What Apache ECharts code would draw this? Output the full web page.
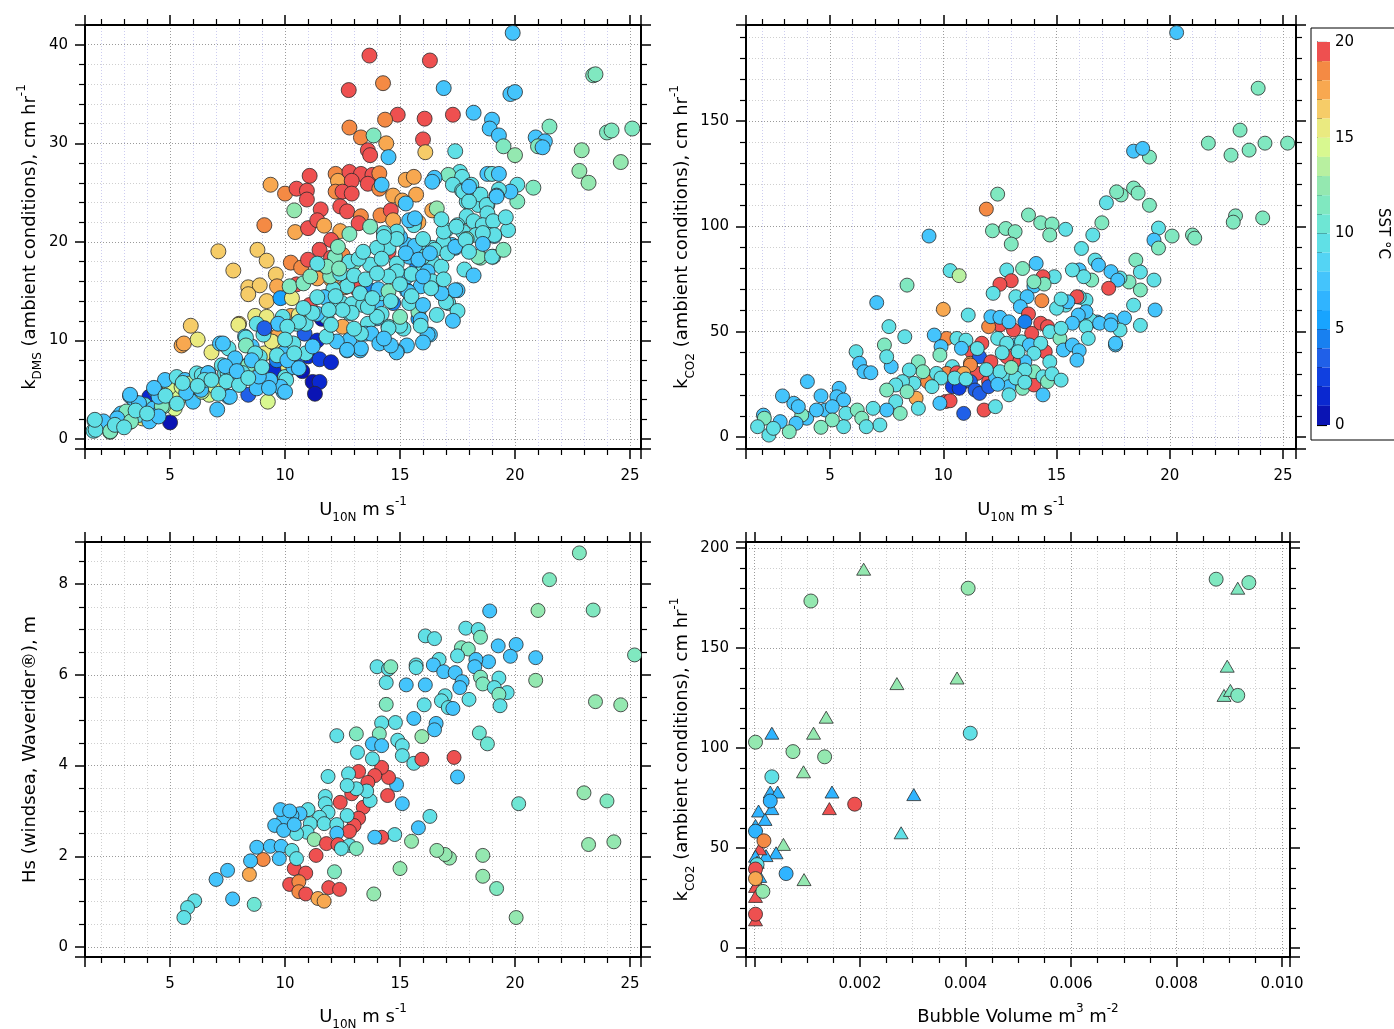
<!DOCTYPE html>
<html><head><meta charset="utf-8">
<script src="https://cdn.jsdelivr.net/npm/echarts@6/dist/echarts.min.js"></script>
<style>html,body{margin:0;padding:0;background:#fff}#c{width:1394px;height:1029px}</style>
</head><body><div id="c"></div>
<script>
// ---------- DATA: [x, y, SST °C] ----------
const tlPoints = [
[19.9,41.2,7],[13.67,38.9,19.5],[16.3,38.4,19.5],[23.4,36.9,11.5],[23.5,37.0,11.5],[12.77,35.4,19.5],[14.26,36.1,18.5],[16.9,35.6,7],[19.8,35.0,7],[20.0,35.2,7],[14.9,32.9,19.5],[14.35,32.4,18.5],[16.07,32.5,19.5],[17.3,32.9,19.5],[18.2,33.1,7],[19.0,32.4,7],[18.9,31.5,7],[19.3,30.8,7],[21.5,31.7,11.5],[24.0,31.1,11],[24.2,31.3,11],[25.1,31.5,11],[12.8,31.6,18.5],[13.3,30.6,18.5],[13.85,30.8,11.5],[13.6,29.3,19.5],[14.4,30.0,17.5],[13.7,28.8,19.5],[16.0,30.4,19.5],[16.1,29.1,16.5],[14.5,28.6,7],[17.4,29.2,9.5],[19.5,29.7,11.5],[20.0,28.8,12],[20.9,30.6,7],[21.3,30.2,7],[21.0,29.7,11],[21.2,29.6,7],[22.9,29.3,12],[22.8,27.2,12],[23.2,26.0,12],[24.6,28.1,12],[20.8,25.5,11],[20.1,24.1,11],[20.1,25.8,9.5],[19.8,25.1,7],[19.3,25.3,9.5],[19.2,24.7,7],[18.8,26.9,7],[19.0,26.9,9],[19.3,26.9,7],[17.6,27.1,9],[17.1,26.8,11.5],[17.7,26.6,9],[16.5,26.5,7],[16.4,26.1,7],[17.3,25.8,9],[18.1,25.8,9],[17.7,25.2,9],[18.45,24.8,9],[17.9,24.1,9],[18.8,23.75,9],[18.4,23.75,9],
[11.07,26.7,19.5],[9.37,25.8,17.5],[10.0,24.9,18.5],[10.5,25.4,19.5],[10.95,25.2,19.5],[10.95,24.3,19.5],[12.2,26.9,18.5],[12.3,26.2,17.5],[12.8,27.1,19.5],[13.3,26.9,19.5],[13.8,26.8,19.5],[14.1,26.96,18.5],[12.9,26.2,19.5],[12.2,25.1,18.5],[12.5,25.1,19.5],[12.9,24.9,19.5],[13.6,25.9,19.5],[14.1,25.4,18.5],[14.2,25.8,7],[14.7,24.7,17.5],[15.1,24.2,17.5],[15.25,26.3,17.5],[15.6,26.6,17.5],[15.7,24.8,17.5],[15.25,23.9,7],[16.4,23.2,17.5],[16.6,23.4,12],[15.8,22.0,17.5],[15.6,21.9,7],[11.55,23.3,19.5],[12.4,23.6,19.5],[12.7,23.1,19.5],[10.4,23.2,12],[9.1,21.7,18.5],[10.44,21.0,17.5],[11.0,21.4,19.5],[11.4,22.2,19.5],[11.7,21.65,17.5],[12.4,21.1,17.5],[13.3,22.6,18.5],[13.2,21.9,19.5],[13.7,21.55,11.5],[14.15,22.7,18.5],[14.6,23.2,19.5],[14.7,22.2,17.5],[12.8,20.8,11.5],[12.0,20.2,19.5],[11.5,19.2,19.5],[12.0,18.4,19.5],[12.5,18.7,18.5],[13.0,17.9,11.5],[14.5,19.0,19.5],[7.1,19.05,16.5],[8.8,19.2,16.5],[9.2,18.1,16.5],[7.75,17.1,16.5],[9.6,16.7,16.5],[10.25,17.9,18.5],[10.7,17.4,18.5],[11.0,18.2,19.5],[11.3,16.5,18.5],[12.0,16.2,17.5],[11.4,16.3,17.5],[13.0,16.1,19.5],[12.6,15.4,18.5],[13.1,15.3,19.5],[10.5,15.7,19.5],[9.65,15.5,17.5],[8.4,15.4,16.5],[8.9,15.6,16.5],[8.4,14.7,16.5],[9.2,14.0,16.5],[9.8,14.3,5.5],[10.3,14.3,15.5],[11.07,13.6,19.5],[11.8,14.4,17.5],[8.7,12.5,15.5],[9.2,12.4,15.5],[10.25,12.5,17.5],[10.6,12.6,15.5],[8.0,11.7,16],[5.9,11.5,16.5],[5.5,9.5,17],[5.6,9.7,17],[6.2,10.1,15.5],[6.8,8.8,15.5],[12.5,11.4,17.5],[9.15,10.7,17.5],[9.7,10.5,17],[9.5,9.8,15.5],[9.1,8.7,15.5],[9.75,7.0,15.5],
[11.6,12.2,0.5],[10.85,10.7,3.5],[11.4,10.0,1.5],[11.0,8.4,1.5],[11.5,8.1,2.5],[12.0,7.8,1.5],[10.5,7.8,3.5],[10.75,6.9,0.5],[9.5,7.0,1.5],[11.2,5.8,0.5],[11.5,5.8,1],[11.3,4.6,0.5],[8.4,4.5,3.5],[13.7,15.1,4.5],[14.7,13.8,4.5],[15.75,17.6,4.5],[15.3,15.1,5.5],[15.8,12.2,5.5],[5.0,1.7,0.5],[4.1,4.3,1.5],[9.25,3.8,14],[7.05,3.0,7],[3.8,2.1,15.5],
[5.0,5.2,14.5],[5.4,4.2,14],[5.2,3.1,14],[6.9,5.3,14.5],[6.7,4.5,14],[5.8,5.8,13],[8.1,7.4,11.5],[4.7,3.3,11.5],
[1.71,1.86,9.5],[1.67,0.84,9],[2.1,1.65,7],[2.39,0.74,11],[2.53,1.25,9],[2.75,2.26,7],[3.04,2.6,11],[3.26,4.37,7],[3.48,3.7,7],[3.26,1.76,11],[3.62,2.44,9.5],[3.9,3.45,9.5],[4.27,3.1,7],[4.42,2.44,5.5],[4.64,3.35,11.5],[4.35,4.97,7],[4.78,6.0,7],[5.29,6.3,9.5],[5.5,5.3,14],[5.65,6.0,7],[5.87,5.65,13],[5.87,4.47,9.5],[6.0,3.8,7],[6.16,6.67,9.5],[6.38,6.5,9.5],[6.38,4.8,13],[6.67,6.67,7],[6.96,5.3,14.5],[7.17,9.7,7],[7.25,7.5,9.5],[7.39,6.67,9.5],[7.54,4.3,7],[7.54,9.2,9.5],[7.83,8.2,7],[7.97,11.6,15.5],[7.97,5.65,9.5],[8.26,10.4,7],[8.4,7.5,11.5],[8.55,9.4,7],[8.77,5.15,7],[8.9,8.36,9.5],[9.06,11.2,5.5],[9.42,9.9,15.5],[9.64,8.0,4.5],[10.0,6.3,9.5],[9.93,4.8,7],
[17.75,25.1,9.5],[18.5,24.8,9.5],[18.0,24.1,9.5],[18.77,23.75,9.5],[19.2,24.6,7],[18.8,22.9,9.5],[17.9,22.6,9.5],[18.2,22.1,9.5],[18.6,21.7,9.5],[19.05,22.1,9.5],[17.5,21.7,9.5],[17.0,21.2,9.5],[17.75,21.0,9.5],[18.3,20.7,9.5],[18.9,20.7,9.5],[19.1,20.6,7],[17.9,20.3,11.5],[17.25,19.7,7],[17.4,19.4,7],[16.7,19.4,9.5],[18.5,18.4,11.5],[19.05,18.5,9.5],[16.9,20.0,9.5],[16.4,19.4,9.5],[16.4,18.0,9.5],[15.8,19.5,9.5],[16.0,18.5,9.5],[15.4,18.5,7],[15.3,19.7,7],[15.0,20.5,7],[15.6,21.7,9.5],[15.4,22.2,7],[15.65,22.4,7],[14.86,21.05,9.5],[14.3,20.9,9.5],[14.5,19.4,9.5],[14.0,19.4,9.5],[13.7,17.7,9.5],[14.2,18.3,9.5],[14.86,17.8,9.5],[14.7,16.75,9.5],[15.3,16.5,7],[15.9,16.8,9.5],[16.2,17.0,7],[16.4,16.0,9.5],[16.8,14.8,9.5],[17.1,13.8,9.5],[17.5,15.1,7],[15.9,15.5,7],[15.36,14.95,7],[15.8,12.9,11.5],[15.9,12.1,7],[16.3,10.6,7],[15.3,9.5,7],[14.86,8.9,7],[14.5,11.4,9.5],[15.15,11.2,9.5],[14.0,12.25,7],[14.0,13.9,7],[14.2,12.7,9.5],[13.6,11.7,9.5],[13.5,10.7,7],[13.26,9.0,7],[12.8,10.05,7],[12.7,9.0,7],[12.25,9.9,7],[11.8,10.4,9.5],[12.8,12.8,9.5],[12.46,13.8,9.5],[12.1,13.4,9.5],[12.9,13.7,9.5],[13.4,13.6,9.5],[13.26,14.8,9.5],[14.2,14.8,9.5],[12.7,15.5,9.5],[12.1,15.2,9.5],[11.7,14.4,7],[11.4,14.4,9.5],[11.96,16.5,11.5],[12.4,16.8,9.5],[12.8,18.0,9.5],[13.2,18.3,9.5],[12.17,18.5,11.5],[11.8,12.4,9.5],[11.4,12.7,7],[10.9,11.7,9.5],[10.5,11.7,9.5],[9.9,12.4,9.5],[9.7,11.7,7],[10.36,9.7,9.5],[9.93,8.7,7],[10.36,7.3,7],[10.9,8.7,9.5],[10.2,15.5,11.5],[10.8,15.8,11.5],[11.1,16.5,11.5],[11.8,17.5,11.5],[12.35,17.3,11.5],[8.77,11.7,9.5],[9.06,10.6,9.5],
[14.85,8.8,7],[16.2,10.6,7],[15.9,11.5,9.5],[15.0,11.5,9.5],[17.4,15.1,7],[17.0,13.9,9.5],[16.8,14.8,7],[16.35,15.3,9.5],[16.8,17.5,9.5],[16.5,19.2,9.5],[17.06,18.85,9.5],[17.4,19.5,7],[17.85,20.2,9.5],[18.4,18.5,11.5],[19.0,18.5,9.5],[19.5,19.2,11.5],[19.7,21.2,9.5],[19.1,20.7,9.5],[18.6,20.9,9.5],[16.9,21.05,9.5],[17.45,21.55,9.5],[15.65,19.6,7],[14.86,20.3,9.5],[14.3,20.5,9.5],[15.25,18.85,7],[15.8,18.2,7],[16.3,18.85,7],[15.5,16.75,9.5],[16.0,16.5,7],[14.86,17.0,9.5],[14.5,16.5,9.5],[14.06,15.2,7],[14.5,15.0,11.5],[15.0,15.7,9.5],[15.4,13.8,9.5],[15.0,12.4,11.5],[14.5,11.25,9.5],[14.0,12.4,9.5],[13.6,13.4,9.5],[12.9,12.8,9.5],[13.75,10.7,7],[14.1,9.7,7],[13.3,9.2,7],[12.7,9.05,7],[13.3,10.7,9.5],[14.6,9.5,7],[12.5,13.1,9.5],[12.2,14.5,9.5],[11.9,13.1,9.5],[11.2,12.8,9.5],[10.6,11.9,9.5],[10.1,11.4,9.5],[10.0,10.1,9.5],[9.1,11.25,3.5],[8.3,10.3,9.5],[8.3,9.5,11.5],[8.7,8.7,9.5],[8.55,8.0,7],[9.65,8.5,9.5],[10.1,8.0,7],[10.4,8.7,9.5],[10.6,7.2,7],[10.05,6.0,9.5],[9.8,5.3,7],[10.0,4.8,7],[9.35,6.0,7],[8.86,6.35,7],[8.15,6.7,9.5],[7.5,6.7,9.5],[7.44,5.85,9.5],[8.0,5.5,9.5],[7.6,4.3,7],[7.4,7.4,7],[7.3,9.7,7],[6.65,6.7,7],[6.35,5.0,7],[5.7,4.7,7],[5.55,5.7,9.5],[6.5,6.0,9.5],[4.5,4.3,7],[4.3,5.2,7],[3.65,3.65,7],[3.26,4.5,7],[2.87,2.6,7],[3.1,2.8,11],[2.7,2.1,7],[3.3,1.8,11],[4.1,1.8,7],[4.5,2.3,7],[2.1,1.8,7],[1.76,0.95,9.5],[2.4,0.8,11],[2.6,1.45,9.5],[1.73,1.96,9.5],
[13.0,16.6,9.5],[13.5,16.2,9.5],[14.0,16.8,9.5],[13.8,14.3,9.5],[14.6,14.0,9.5],[15.5,14.5,9.5],[16.0,13.6,7],[16.6,12.6,9.5],[17.5,13.0,9.5],[16.9,16.2,9.5],[17.8,17.2,9.5],[18.2,16.6,7],[18.0,19.0,9.5],[16.0,20.3,9.5],[13.4,19.0,9.5],[12.3,19.5,11.5],[11.4,17.8,9.5],[10.8,13.3,9.5],[11.2,9.4,7],[12.0,11.6,9.5],[13.0,11.2,9.5],[14.3,10.2,7],[16.0,9.8,7],[17.3,12.0,7],[18.6,19.8,7],[19.6,22.5,9.5],[18.0,25.6,7],[16.8,22.3,9.5],
[3.0,1.2,9.5],[3.5,2.9,9.5],[4.0,2.6,9.5],[4.8,4.4,9.5],[5.3,3.6,9.5],[6.2,5.4,9.5],[6.8,6.0,9.5],[7.1,4.6,9.5],[7.9,6.9,7],[8.4,6.2,9.5],[9.0,7.3,9.5],[9.3,5.2,7]
];

const trPoints = [
[20.3,192,7],[23.9,165.6,11.5],[23.1,145.7,11.5],[23.5,136.2,11.5],[22.7,133.8,11.5],[24.2,139.5,11.5],[25.2,139.5,11.5],[21.7,139.5,11.5],[19.1,132.9,11.5],[18.4,135.7,7],[18.8,137,7],[22.9,105,11.5],[22.8,102,11.5],[24.1,104,11.5],[21.0,95.9,11.5],[21.1,94.4,11.5],[20.1,95.4,11.5],[19.5,99.2,9.5],[19.3,93.5,7],[19.5,89.7,11.5],[19.1,110,11.5],[17.85,114.9,11.5],[18.4,118.2,11.5],[18.6,115.8,11.5],[18.5,84,11.5],[18.7,78.3,9.5],[18.2,73.6,11.5],[17.8,75.5,9.5],[19.3,74.5,9.5],[18.7,69.8,11.5],[18.4,62.6,9.5],[19.35,60.3,7],[18.0,56.5,7],[18.7,53,9.5],[17.6,43.7,7],[17.8,50.8,9.5],[17.4,55.5,7],[16.8,54.6,7],[16.5,55.5,9.5],[16.3,65,9.5],[15.4,62.6,9.5],[16.0,79.3,7],[16.0,66.4,9.5],
[12.4,115.3,11.5],[11.9,108.2,18.5],[9.37,95.4,7],[12.17,97.9,11.5],[12.76,99.0,11.5],[13.17,97.5,11.5],[13.0,91.6,11.5],[13.76,105.4,11.5],[14.3,101.7,11.5],[14.8,101.1,11.5],[14.7,95.9,11.5],[15.4,98.6,9.5],[16.1,89.5,9.5],[16.6,95.9,9.5],[17.0,101.7,11.5],[17.2,111.2,9.5],[17.65,116.4,11.5],[16.7,84,9.5],[16.85,81.6,7],[17.4,78.5,7],[17.7,74.5,7],[16.55,74.5,11.5],[16.2,76.1,9.5],[15.7,79.3,9.5],[17.3,70.6,19.5],[15.9,66.6,19.5],[14.9,76.1,9.5],[14.4,76.1,19.5],[14.1,82.4,7],[13.5,80.0,11.5],[12.8,79.3,9.5],[13.0,74.2,19.5],[12.5,72.5,19.5],[14.0,71.7,7],[14.45,72.6,11.5],[14.0,73.7,11.5],[12.2,68.2,9.5],[10.3,79.0,9.5],[10.7,76.6,13.5],[8.4,72.1,11.5],[7.06,63.8,7],[10.0,60.6,17.5],[11.1,57.9,9.5],[13.2,66.6,9.5],[13.7,66.6,7],[13.4,61.9,7],[14.35,64.7,18.5],[15.0,61.1,9.5],[15.5,64.2,7],[15.2,65.5,9.5],[16.3,59.5,7],[15.96,57.9,7],[15.7,54,7],[16.3,52.4,9.5],[16.4,46.8,9.5],[16.9,54,7],[17.4,53.2,7],[17.6,44.5,7],[13.76,58.4,19.5],[13.6,54.7,4.5],[13.9,49.2,19.5],[14.3,54,19.5],[14.6,52.4,19.5],[14.7,50,9.5],[15.15,46.8,11.5],[15.2,51.6,9.5],[13.1,50.8,19.5],[12.5,53.2,19.5],[12.0,52.4,18.5],[12.1,57.1,7],[12.5,56.8,7],[12.9,54.7,7],[13.2,43.7,7],[12.4,46.8,9.5],[12.8,44.5,9.5],[13.45,45.2,9.5],[13.8,43.7,7],[14.5,40.5,19.5],[15.3,41.3,7],[15.7,43.7,7],[16.0,41,7],[15.9,36.5,7],[14.3,44.5,9.5],[14.0,39.7,9.5],[14.7,35.7,9.5],[13.6,35.7,7],[13.1,35.7,19.5],[12.8,38.1,19.5],[11.7,44.5,19.5],[11.25,40.5,19.5],[10.15,46.8,18.5],[9.6,48.4,7],[9.9,42.9,7],[10.6,46.8,9.5],[11.0,46,9.5],[10.8,42.1,7],[9.85,38.9,11.5],[10.4,33.4,9.5],[10.15,30.2,18.5],[10.6,30.5,19.5],[11.2,35,17.5],[11.6,38.1,3.5],[12.1,35.7,19.5],[11.5,30.2,19.5],[12.0,26.3,19.5],[11.2,34.2,18.5],[10.9,30.2,17.5],[10.8,25.5,19.5],[10.4,23.9,2],[11.2,26.3,3],[11.4,22.3,3.5],[11.6,20.7,3],[12.0,23.9,3.5],[10.7,23.1,2.5],[10.1,16.8,19.5],[10.3,17.2,19.5],[10.9,11.2,3],[11.8,12.8,19.5],[12.3,14.4,9.5],[12.3,28.6,7],[12.8,29.4,9.5],[12.9,23.9,7],[12.9,20,9.5],[13.5,23.1,11.5],[14.0,24.7,19.5],[14.0,31,11.5],[14.4,28.6,9.5],[14.6,26.3,11.5],[14.4,20,7],[13.6,31.8,9.5],[9.3,26.3,18.5],[8.8,18.4,17.5],[9.7,30.2,9.5],[9.9,28,9.5],[9.5,23.9,9.5],[9.85,16,7],[8.7,25.5,9.5],[8.9,35.7,11.5],[9.1,31,11.5],[8.5,31.8,9.5],[8.2,26.3,9.5],[7.9,24.7,9.5],[7.5,22.3,11.5],[8.4,21.5,11.5],[7.9,16.8,9.5],[7.5,12.8,7],[8.1,11.2,11.5],[8.9,13.6,9.5],[8.3,47.6,9.5],[7.4,43.7,11.5],[7.6,52.4,9.5],[7.7,33.4,7],[7.5,38.1,9.5],[6.15,40.5,9.5],[6.3,35,7],[6.5,31,7],[6.8,30.5,7],[5.4,23.1,7],[5.3,19.1,7],[5.6,17.6,7],[4.6,19.5,7],[4.8,12.8,7],[5.1,14.4,7],[5.7,11.2,9.5],[6.2,12.8,11.5],[6.4,8.9,11.5],[6.9,13.6,9.5],[7.2,5.7,9.5],[6.6,4.9,9.5],[5.6,4.9,9.5],[5.1,8.1,11.5],[4.6,4.6,11.5],[3.97,8.9,7],[4.0,26.3,7],[3.75,10.4,11.5],[3.5,6.5,7],[3.4,16,7],[3.6,14.4,7],[2.9,19.5,7],[3.2,2.5,11.5],[2.8,7.3,7],[2.06,10.4,7],[2.1,8.9,11.5],[1.8,4.9,9.5],[2.3,0.9,9.5],[2.5,4.1,9.5],[4.4,12.8,7],
[10.5,28,9.5],[11.0,27.5,9.5],[12.5,31,9.5],[13.2,28,9.5],[13.6,26,9.5],[12.4,25,7],[11.9,32,9.5],[12.6,40,9.5],[13.3,40.5,9.5],[14.8,30,9.5],[15.2,27,9.5],[13.0,33,11.5],[11.5,42,9.5]
];

const blPoints = [
[22.8,8.69,11.5],[21.5,8.1,11.5],[18.9,7.41,7],[21.0,7.42,12],[23.4,7.43,11.5],[25.2,6.44,11.5],[17.86,7.03,9.5],[18.4,7.0,9.5],[18.5,6.83,11.5],[16.1,6.86,9],[16.5,6.8,9.5],[17.67,6.6,11],[17.97,6.57,11],[17.5,6.42,9.5],[19.27,6.64,7],[20.05,6.67,7],[19.8,6.41,7],[20.9,6.38,7],[18.85,6.29,7],[18.3,6.34,7],[18.25,6.18,7],[16.7,6.34,9.5],[16.45,6.22,7],[16.9,6.07,7],[17.4,6.05,7],[15.7,6.22,9.5],[15.7,6.16,9.5],[14.0,6.18,9.5],[14.5,6.13,9.5],[14.6,6.18,11],[17.7,5.85,7],[17.6,5.72,7],[18.5,5.95,11],[18.6,5.8,11],[19.3,5.93,9.5],[19.1,5.72,9.5],[19.66,5.61,9.5],[19.3,5.57,11],[19.35,5.32,9.5],[20.9,5.88,12],[23.5,5.41,12],[24.6,5.34,12],[18.0,5.46,9.5],[16.96,5.54,9.5],[16.8,5.43,9.5],[17.1,5.28,9.5],[17.3,5.26,7],[16.1,5.78,7],[16.05,5.34,9.5],[15.27,5.78,7],[14.4,5.83,9.5],[14.4,5.35,11.5],[15.6,5.04,7],[16.57,4.93,7],[16.5,4.79,7],[14.8,4.95,9.5],[14.2,4.94,9.5],[15.95,4.64,12],[18.45,4.72,10],[18.8,4.48,10],[14.9,4.56,9.5],[15.1,4.44,9.5],[15.1,4.22,9.5],[15.6,4.05,9.5],[15.95,4.14,19.5],[17.35,4.18,19.5],[17.5,3.75,7],[20.16,3.16,10],[23.0,3.4,12],[24.0,3.22,11.5],[23.2,2.26,12],[24.3,2.32,12],[18.6,2.02,12],[18.6,1.56,12],[19.2,1.29,11],[20.05,0.65,12],[17.15,1.96,12],[16.96,2.04,12],[16.6,2.13,12],[15.5,2.33,12],[15.0,1.73,12],[13.86,1.17,12],[16.3,2.88,9.5],[15.8,2.63,7],[15.1,3.16,7],[14.77,2.48,9.5],[14.2,2.42,19.5],[13.9,2.42,7],[14.85,3.58,7],[14.46,3.34,19.5],[14.5,3.74,19.5],[14.2,3.96,19.5],[13.9,3.78,19.5],[13.6,3.63,19.5],[13.2,3.87,19.5],[13.4,3.08,19.5],[12.9,3.38,19.5],[13.2,2.84,19.5],[13.0,2.68,19.5],[12.8,2.55,19.5],[12.4,3.19,19.5],[13.7,3.23,9.5],[13.55,3.44,9.5],[12.76,3.82,9.5],[13.1,3.49,9.5],[12.7,3.56,9.5],[11.87,3.76,9.5],[12.25,4.66,9.5],[13.1,4.7,11],[14.1,4.7,11.5],[13.8,4.48,7],[14.2,4.44,7],[13.15,4.29,9.5],[13.8,4.15,9.5],[11.75,3.32,9.5],[11.75,3.16,9.5],[11.87,2.97,9.5],[11.5,2.86,9.5],[11.0,3.03,9.5],[10.65,2.94,7],[11.1,2.72,9.5],[10.96,2.53,9.5],[10.5,2.5,9.5],[10.3,2.9,7],[9.94,2.83,7],[9.8,3.03,7],[10.2,3.0,7],[9.55,2.68,7],[9.94,2.57,7],[10.4,2.7,7],[11.7,2.72,9.5],[12.25,2.7,9.5],[12.25,2.51,7],[12.7,2.9,9.5],[11.27,2.37,12],[11.8,2.28,19.5],[12.3,2.26,19.5],[12.8,2.24,9.5],[13.1,2.17,11.5],[12.45,2.17,9.5],[11.35,2.02,19.5],[10.4,1.73,19.5],[10.9,1.63,19.5],[10.2,1.38,19.5],[10.6,1.44,18.5],[10.6,1.22,18.5],[10.9,1.17,19.5],[11.9,1.31,19.5],[12.37,1.27,19.5],[11.43,1.07,17.5],[11.7,1.01,17.5],[12.15,1.66,11.5],[9.05,1.93,18.5],[8.45,1.6,17.5],[8.77,2.2,7],[9.36,2.22,7],[9.83,2.22,7],[10.3,2.13,9.5],[10.5,1.95,9.5],[9.75,1.95,7],[8.5,1.9,7],[7.5,1.69,7],[7.0,1.49,7],[7.72,1.06,7],[8.66,0.94,10],[6.07,1.02,9.5],[5.76,0.87,9.5],[5.6,0.65,9.5]
];

const brCircles = [
[0.00107,173.5,12.5],[0.00405,179.9,12.5],[0.00875,184.4,11.5],[0.00937,182.7,11.5],[0.00916,126.3,11.5],[0.00409,107.4,9.5],[0.00002,102.9,12.5],[0.00073,98.2,12.5],[0.00133,95.6,12.5],[0.00033,85.6,9.5],[0.0003,73.5,6],[0.0019,71.9,19.5],[0.00002,58.4,6],[0.00018,53.6,18.5],[0.00005,41.7,9.5],[0.00002,39.5,19.5],[0.00002,34.7,17.5],[0.0006,37.2,6],[0.00016,28.3,12.5],[0.00002,16.9,19.5]
];
const brTriangles = [
[0.00207,189.4,12.5],[0.00916,179.9,11.5],[0.00896,140.9,11.5],[0.0089,126.3,11.5],[0.00902,128.8,11.5],[0.0027,132.2,12.5],[0.00384,135,12.5],[0.00136,115.4,12.5],[0.00112,107.4,12.5],[0.00033,107.4,6],[0.00093,88.1,12.5],[0.0003,78,6],[0.00044,78,6],[0.00147,78,6],[0.00302,76.7,6],[0.00142,69.7,19.5],[0.00033,69.7,6],[0.000078,68.5,6],[0.0002,64.3,6],[0.00002,61.3,6],[0.00278,57.6,9.5],[0.00055,51.8,12.5],[0.00041,47.6,6],[0.00022,46.2,6],[0.0001,49.6,19.5],[0.00002,45.9,6],[0.00005,42.9,19.5],[0.0001,35.8,6],[0.00006,32.5,17.5],[0.00002,30.8,19.5],[0.00002,25.8,19.5],[0.00094,34.2,12.5],[0.00002,14.1,19.5]
];

// colour scale: one colour per 1 °C band, 0..20
const sstColors = ['#0a14b4','#0a28d0','#1040e0','#2060e8','#1880f0','#18a4ff','#30b4ff','#44c4fc','#54d4f4','#60e0e6',
                   '#6ee6d4','#80e8c0','#94e8b0','#b8f0a0','#d8f890','#eaea80','#f6cc68','#f8a850','#f48a44','#ee5050'];
const sstTicks = [0, 5, 10, 15, 20];

// ---------- CHART ----------
const FONT = 'DejaVu Sans';
const chart = echarts.init(document.getElementById('c'));
const rich = {
  n: {fontSize: 18, fontFamily: FONT, color: '#000', lineHeight: 28},
  sub: {fontSize: 12, fontFamily: FONT, color: '#000', lineHeight: 12, verticalAlign: 'bottom'},
  sup: {fontSize: 12, fontFamily: FONT, color: '#000', lineHeight: 12, verticalAlign: 'top'}
};

function axis(kind, grid, pos, min, max, minorN, o) {
  o = o || {};
  const a = {
    type: 'value', gridIndex: grid, position: pos, min: min, max: max,
    axisLine: {show: true, onZero: false, lineStyle: {color: '#000', width: 2}},
    axisTick: {show: true, inside: false, length: 10, lineStyle: {color: '#000', width: 1.5}},
    minorTick: {show: true, splitNumber: minorN, length: 6, lineStyle: {color: '#000', width: 1.2}},
    axisLabel: {show: !!o.labels, showMinLabel: false, showMaxLabel: false, fontSize: 15, fontFamily: FONT,
                color: '#000', margin: kind === 'x' ? 20 : 17, formatter: o.fmt},
    splitLine: {show: !!o.grid, lineStyle: {color: '#9a9a9a', type: [1, 2], width: 1}},
    minorSplitLine: {show: !!o.grid, lineStyle: {color: o.minorColor || '#cfcfcf', type: [1, 2], width: 1}}
  };
  if (o.name) {
    a.name = o.name; a.nameLocation = 'middle'; a.nameGap = o.gap;
    a.nameTextStyle = {rich: rich};
    if (kind === 'y') a.nameRotate = 90;
  }
  return a;
}

const uName = '{n|U}{sub|10N}{n| m s}{sup|-1}';
const lav = '#cdcdf0';

const xAxes = [
  axis('x', 0, 'bottom', 1.3, 25.48, 5, {labels: true, grid: true, minorColor: lav, name: uName, gap: 47}),
  axis('x', 0, 'top', 1.3, 25.48, 5),
  axis('x', 1, 'bottom', 1.29, 25.57, 5, {labels: true, grid: true, minorColor: lav, name: uName, gap: 47}),
  axis('x', 1, 'top', 1.29, 25.57, 5),
  axis('x', 2, 'bottom', 1.3, 25.48, 5, {labels: true, grid: true, name: uName, gap: 46}),
  axis('x', 2, 'top', 1.3, 25.48, 5),
  axis('x', 3, 'bottom', -0.00016, 0.01015, 4, {labels: true, grid: true, name: '{n|Bubble Volume m}{sup|3}{n| m}{sup|-2}', gap: 46,
        fmt: v => (Math.abs(v) < 1e-9 ? '' : v.toFixed(3))}),
  axis('x', 3, 'top', -0.00016, 0.01015, 4),
  {type: 'value', gridIndex: 4, min: 0, max: 1, show: false}
];
const yAxes = [
  axis('y', 0, 'left', -1.0, 42.0, 5, {labels: true, grid: true, name: '{n|k}{sub|DMS}{n| (ambient conditions), cm hr}{sup|-1}', gap: 41}),
  axis('y', 0, 'right', -1.0, 42.0, 5),
  axis('y', 1, 'left', -5.7, 195.6, 5, {labels: true, grid: true, name: '{n|k}{sub|CO2}{n| (ambient conditions), cm hr}{sup|-1}', gap: 43}),
  axis('y', 1, 'right', -5.7, 195.6, 5),
  axis('y', 2, 'left', -0.22, 8.93, 4, {labels: true, grid: true, name: '{n|Hs (windsea, Waverider®), m}', gap: 41}),
  axis('y', 2, 'right', -0.22, 8.93, 4),
  axis('y', 3, 'left', -4.5, 203, 5, {labels: true, grid: true, name: '{n|k}{sub|CO2}{n| (ambient conditions), cm hr}{sup|-1}', gap: 43}),
  axis('y', 3, 'right', -4.5, 203, 5),
  {
    type: 'value', gridIndex: 4, position: 'right', min: sstTicks[0], max: sstTicks[sstTicks.length - 1], interval: 5,
    axisLine: {show: true, lineStyle: {color: '#000', width: 1}},
    axisTick: {show: true, length: 10, lineStyle: {color: '#000', width: 1.2}},
    minorTick: {show: true, splitNumber: 5, length: 5, lineStyle: {color: '#000', width: 1}},
    axisLabel: {fontSize: 15, fontFamily: FONT, color: '#000', margin: 5},
    splitLine: {show: false},
    name: 'SST °C', nameLocation: 'middle', nameRotate: -90, nameGap: 45,
    nameTextStyle: {fontSize: 15, fontFamily: FONT, color: '#000'}
  }
];

const pieces = sstColors.map((c, i) => (i === sstColors.length - 1
  ? {gte: i, lte: i + 1, color: c} : {gte: i, lt: i + 1, color: c}));

const sym = {borderColor: '#2a2a2a', borderWidth: 0.8, opacity: 1};

chart.setOption({
  animation: false,
  backgroundColor: '#fff',
  grid: [
    {left: 85, top: 25, width: 556, height: 424, outerBoundsMode: 'none'},
    {left: 746, top: 25, width: 550, height: 424, outerBoundsMode: 'none'},
    {left: 85, top: 542, width: 556, height: 415, outerBoundsMode: 'none'},
    {left: 746, top: 542, width: 544, height: 415, outerBoundsMode: 'none'},
    {left: 1317, top: 42, width: 13, height: 383, outerBoundsMode: 'none'}
  ],
  xAxis: xAxes,
  yAxis: yAxes,
  visualMap: [{
    type: 'piecewise', seriesIndex: [0, 1, 2, 3, 4], dimension: 2, pieces: pieces,
    orient: 'vertical', left: 1317, top: 42, itemWidth: 13, itemHeight: 383 / 20, itemGap: 0,
    itemSymbol: 'rect', showLabel: false, padding: 0, hoverLink: false, selectedMode: false
  }],
  graphic: [{
    type: 'rect', shape: {x: 1311, y: 28, width: 120, height: 412},
    style: {fill: 'none', stroke: '#000', lineWidth: 1}, silent: true, z: 100
  }],
  series: [
    {type: 'scatter', xAxisIndex: 0, yAxisIndex: 0, data: tlPoints, symbolSize: 15, itemStyle: sym},
    {type: 'scatter', xAxisIndex: 2, yAxisIndex: 2, data: trPoints, symbolSize: 14, itemStyle: sym},
    {type: 'scatter', xAxisIndex: 4, yAxisIndex: 4, data: blPoints, symbolSize: 14, itemStyle: sym},
    {type: 'scatter', xAxisIndex: 6, yAxisIndex: 6, data: brTriangles, symbol: 'triangle', symbolSize: [14, 12], itemStyle: sym},
    {type: 'scatter', xAxisIndex: 6, yAxisIndex: 6, data: brCircles, symbolSize: 14, itemStyle: sym}
  ]
});
</script></body></html>
